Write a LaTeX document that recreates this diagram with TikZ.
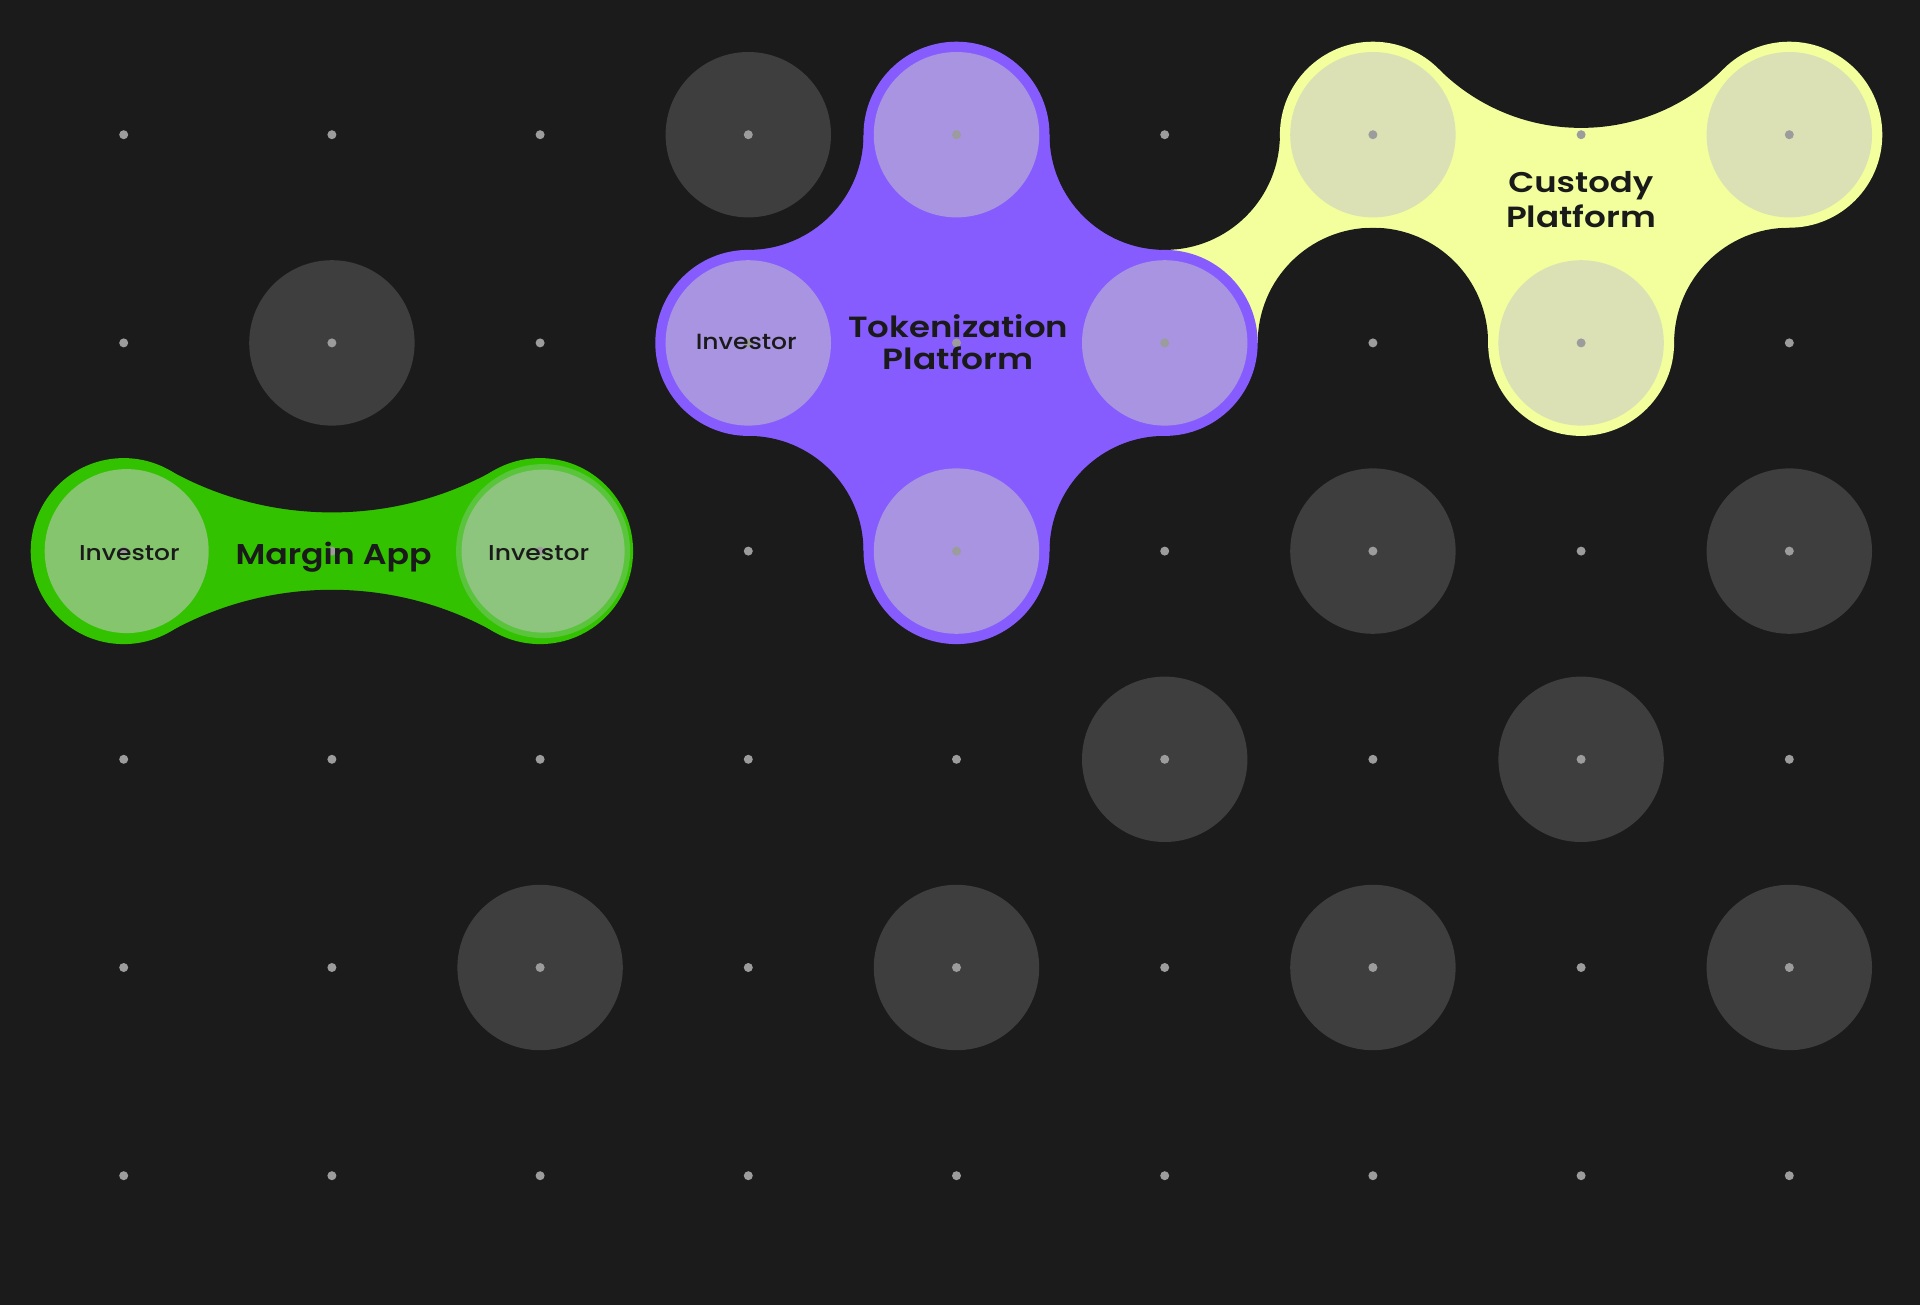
\documentclass[tikz,border=0pt]{standalone}
\usepackage{fontspec}
\setmainfont{Poppins}
\newfontfamily\semibf{Poppins SemiBold}
\newfontfamily\medf{Poppins Medium}
\usepackage{graphicx}
\definecolor{bgc}{HTML}{1B1B1B}
\definecolor{darkc}{HTML}{3E3E3E}
\definecolor{dotc}{HTML}{9C9C9C}
\definecolor{grnO}{HTML}{33C200}
\definecolor{grnIL}{HTML}{84C56E}
\definecolor{grnIR}{HTML}{8DC57E}
\definecolor{grnRing}{HTML}{5AC43C}
\definecolor{purO}{HTML}{875CFF}
\definecolor{purI}{HTML}{A894E0}
\definecolor{yelO}{HTML}{F2FF9C}
\definecolor{yelI}{HTML}{DBE1B4}
\definecolor{txtc}{HTML}{1A1A1A}
\newcommand{\wtxt}[4]{\resizebox{#1pt}{\height}{#2\fontsize{#3}{#3}\selectfont #4}}
\begin{document}
\begin{tikzpicture}[x=1pt,y=-1pt,
  disc/.style={circle,inner sep=0pt,outer sep=0pt,draw=none},
  outerdisc/.style={disc,minimum size=186pt},
  innerdisc/.style={disc,minimum size=165.4pt},
  lbl/.style={inner sep=0pt,outer sep=0pt,anchor=base,text=txtc}]
\useasboundingbox (0,0) rectangle (1920,1305);
\fill[bgc] (0,0) rectangle (1920,1305);
% grid coordinates
\foreach \i in {0,...,8}{\foreach \j in {0,...,5}{
  \coordinate (g\i\j) at ({123.7+208.2*\i},{134.7+208.2*\j});}}
\coordinate (yapex) at ({123.7+208.2*7},{134.7-208.2});
\coordinate (gtop) at ({123.7+208.2},{551.1-372});
\coordinate (gbot) at ({123.7+208.2},{551.1+372});
% base fills
\fill[yelO] (g51) -- (g50) -- (g60) -- (yapex) -- (g80) -- (g81) -- (g71) -- (g61) -- cycle;
\fill[purO] (g30) rectangle (g52);
\fill[grnO] (g02) -- (gtop) -- (g22) -- (gbot) -- cycle;
% concave fillets
\foreach \p in {30,50,32,52,61,81}{\fill[bgc] (g\p) circle[radius=115.2pt];}
\fill[bgc] (yapex) circle[radius=201.4pt];
\fill[bgc] (gtop) circle[radius=333.3pt];
\fill[bgc] (gbot) circle[radius=333.3pt];
% outer discs
\foreach \p in {60,80,71}{\node[outerdisc,fill=yelO] (o\p) at (g\p) {};}
\foreach \p in {40,31,51,42}{\node[outerdisc,fill=purO] (o\p) at (g\p) {};}
\foreach \p in {02,22}{\node[outerdisc,fill=grnO] (o\p) at (g\p) {};}
% inner discs
\foreach \p in {60,80,71}{\node[innerdisc,fill=yelI] (i\p) at (g\p) {};}
\foreach \p in {40,31,51,42}{\node[innerdisc,fill=purI] (i\p) at (g\p) {};}
\node[disc,minimum size=164pt,fill=grnIL] (i02) at (126.7,551.1) {};
\node[disc,minimum size=174pt,fill=grnRing] (r22) at (543.1,551.1) {};
\node[disc,minimum size=163pt,fill=grnIR] (i22) at (543.1,551.1) {};
% dark discs
\foreach \p in {30,11,62,82,53,73,24,44,64,84}{\node[innerdisc,fill=darkc] (dk\p) at (g\p) {};}
% dots
\foreach \i in {0,...,8}{\foreach \j in {0,...,5}{\fill[dotc] (g\i\j) circle[radius=4.5pt];}}
% labels
\node[lbl] (invG1) at (129.4,560.7) {\wtxt{100.6}{\medf}{21.5}{Investor}};
\node[lbl] (margin) at (333.5,564) {\wtxt{196}{\semibf}{28.6}{Margin App}};
\node[lbl] (invG2) at (538.7,560.7) {\wtxt{101}{\medf}{21.5}{Investor}};
\node[lbl] (invP) at (746.3,349.8) {\wtxt{101}{\medf}{22}{Investor}};
\node[lbl] (tok1) at (958.4,337.6) {\wtxt{220}{\semibf}{29.2}{Tokenization}};
\node[lbl] (tok2) at (958.4,369.8) {\wtxt{151}{\semibf}{29.2}{Platform}};
\node[lbl] (cus1) at (1580.8,192.7) {\wtxt{145}{\semibf}{28.5}{Custody}};
\node[lbl] (cus2) at (1581,227.3) {\wtxt{150}{\semibf}{29.2}{Platform}};
\end{tikzpicture}
\end{document}
